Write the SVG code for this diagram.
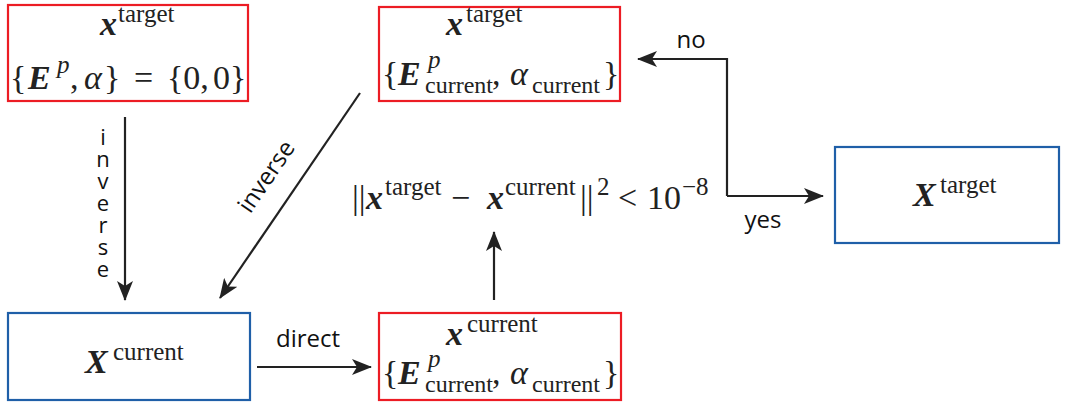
<svg xmlns="http://www.w3.org/2000/svg" width="1067" height="410" viewBox="0 0 1067 410">
<style>
.red{fill:#fff;stroke:#ec1c24;stroke-width:2.2}
.blue{fill:#fff;stroke:#1f5fa8;stroke-width:2.2}
.m{font-family:"Liberation Serif",serif;font-size:34px;fill:#222}
.bi{font-weight:bold;font-style:italic}
.it{font-style:italic}
.sup{font-size:25px}
.sub{font-size:24px}
.lbl{font-family:"Open Sans","Liberation Sans",sans-serif;font-size:24px;fill:#111}
.vert{font-size:22px;writing-mode:vertical-rl;text-orientation:upright;letter-spacing:-8px}
.c{stroke:#222;stroke-width:2.2;fill:none}
</style>
<defs>
<marker id="ah" viewBox="0 0 20 16" refX="19" refY="8" markerWidth="20" markerHeight="16" markerUnits="userSpaceOnUse" orient="auto">
<path d="M0,0 L20,8 L0,16 L5,8 Z" fill="#222"/>
</marker>
</defs>
<g id="node-x-target-init">
<rect class="red" x="8" y="5" width="240" height="96"/>
<text class="m"><tspan class="bi" x="100" y="35">x</tspan><tspan class="sup" x="118" y="22">target</tspan></text>
<text class="m"><tspan x="10" y="89">{</tspan><tspan class="bi" x="28" y="89">E</tspan><tspan class="sup it" x="57" y="73">p</tspan><tspan x="70" y="89">,</tspan><tspan class="it" x="84" y="89">α</tspan><tspan x="104" y="89">}</tspan><tspan x="134" y="89">=</tspan><tspan x="167" y="89">{0,</tspan><tspan x="213" y="89">0}</tspan></text>
</g>
<g id="node-x-target-current">
<rect class="red" x="379" y="7" width="241" height="94"/>
<text class="m"><tspan class="bi" x="446" y="35">x</tspan><tspan class="sup" x="466" y="22">target</tspan></text>
<text class="m"><tspan x="382" y="85">{</tspan><tspan class="bi" x="398" y="85">E</tspan><tspan class="sup it" x="428" y="68">p</tspan><tspan class="sub" x="425" y="93">current</tspan><tspan x="492" y="85">,</tspan><tspan class="it" x="510" y="85">α</tspan><tspan class="sub" x="532" y="93">current</tspan><tspan x="603" y="85">}</tspan></text>
</g>
<g id="node-X-current">
<rect class="blue" x="8" y="313" width="242" height="87"/>
<text class="m"><tspan class="bi" x="85" y="373">X</tspan><tspan class="sup" x="113" y="360">current</tspan></text>
</g>
<g id="node-x-current">
<rect class="red" x="379" y="313" width="242" height="87"/>
<text class="m"><tspan class="bi" x="446" y="345">x</tspan><tspan class="sup" x="467" y="332">current</tspan></text>
<text class="m"><tspan x="382" y="384">{</tspan><tspan class="bi" x="398" y="384">E</tspan><tspan class="sup it" x="428" y="367">p</tspan><tspan class="sub" x="425" y="392">current</tspan><tspan x="492" y="384">,</tspan><tspan class="it" x="510" y="384">α</tspan><tspan class="sub" x="532" y="392">current</tspan><tspan x="603" y="384">}</tspan></text>
</g>
<g id="node-X-target">
<rect class="blue" x="835" y="147" width="224" height="96"/>
<text class="m"><tspan class="bi" x="913" y="206">X</tspan><tspan class="sup" x="940" y="193">target</tspan></text>
</g>
<g id="node-criterion">
<text class="m"><tspan x="352" y="209">||</tspan><tspan class="bi" x="366" y="209">x</tspan><tspan class="sup" x="385" y="195">target</tspan><tspan x="451" y="209">−</tspan><tspan class="bi" x="487" y="209">x</tspan><tspan class="sup" x="505" y="195">current</tspan><tspan x="580" y="209">||</tspan><tspan class="sup" x="597" y="195">2</tspan><tspan x="618" y="209">&lt;</tspan><tspan x="647" y="209">10</tspan><tspan class="sup" x="682" y="195">−8</tspan></text>
</g>
<g id="connectors">
<line class="c" x1="125" y1="117" x2="125" y2="300" marker-end="url(#ah)"/>
<line class="c" x1="360" y1="93" x2="220" y2="298" marker-end="url(#ah)"/>
<line class="c" x1="257" y1="367" x2="371" y2="367" marker-end="url(#ah)"/>
<line class="c" x1="494" y1="300" x2="494" y2="232" marker-end="url(#ah)"/>
<polyline class="c" points="727,196 727,59 638,59" marker-end="url(#ah)"/>
<line class="c" x1="727" y1="196" x2="823" y2="196" marker-end="url(#ah)"/>
<g class="lbl">
<text class="vert" x="103" y="121">inverse</text>
<text text-anchor="middle" transform="translate(273,181) rotate(-55.7)">inverse</text>
<text text-anchor="middle" x="308" y="347">direct</text>
<text text-anchor="middle" x="691" y="48">no</text>
<text text-anchor="middle" x="763" y="228">yes</text>
</g>
</g>
</svg>
